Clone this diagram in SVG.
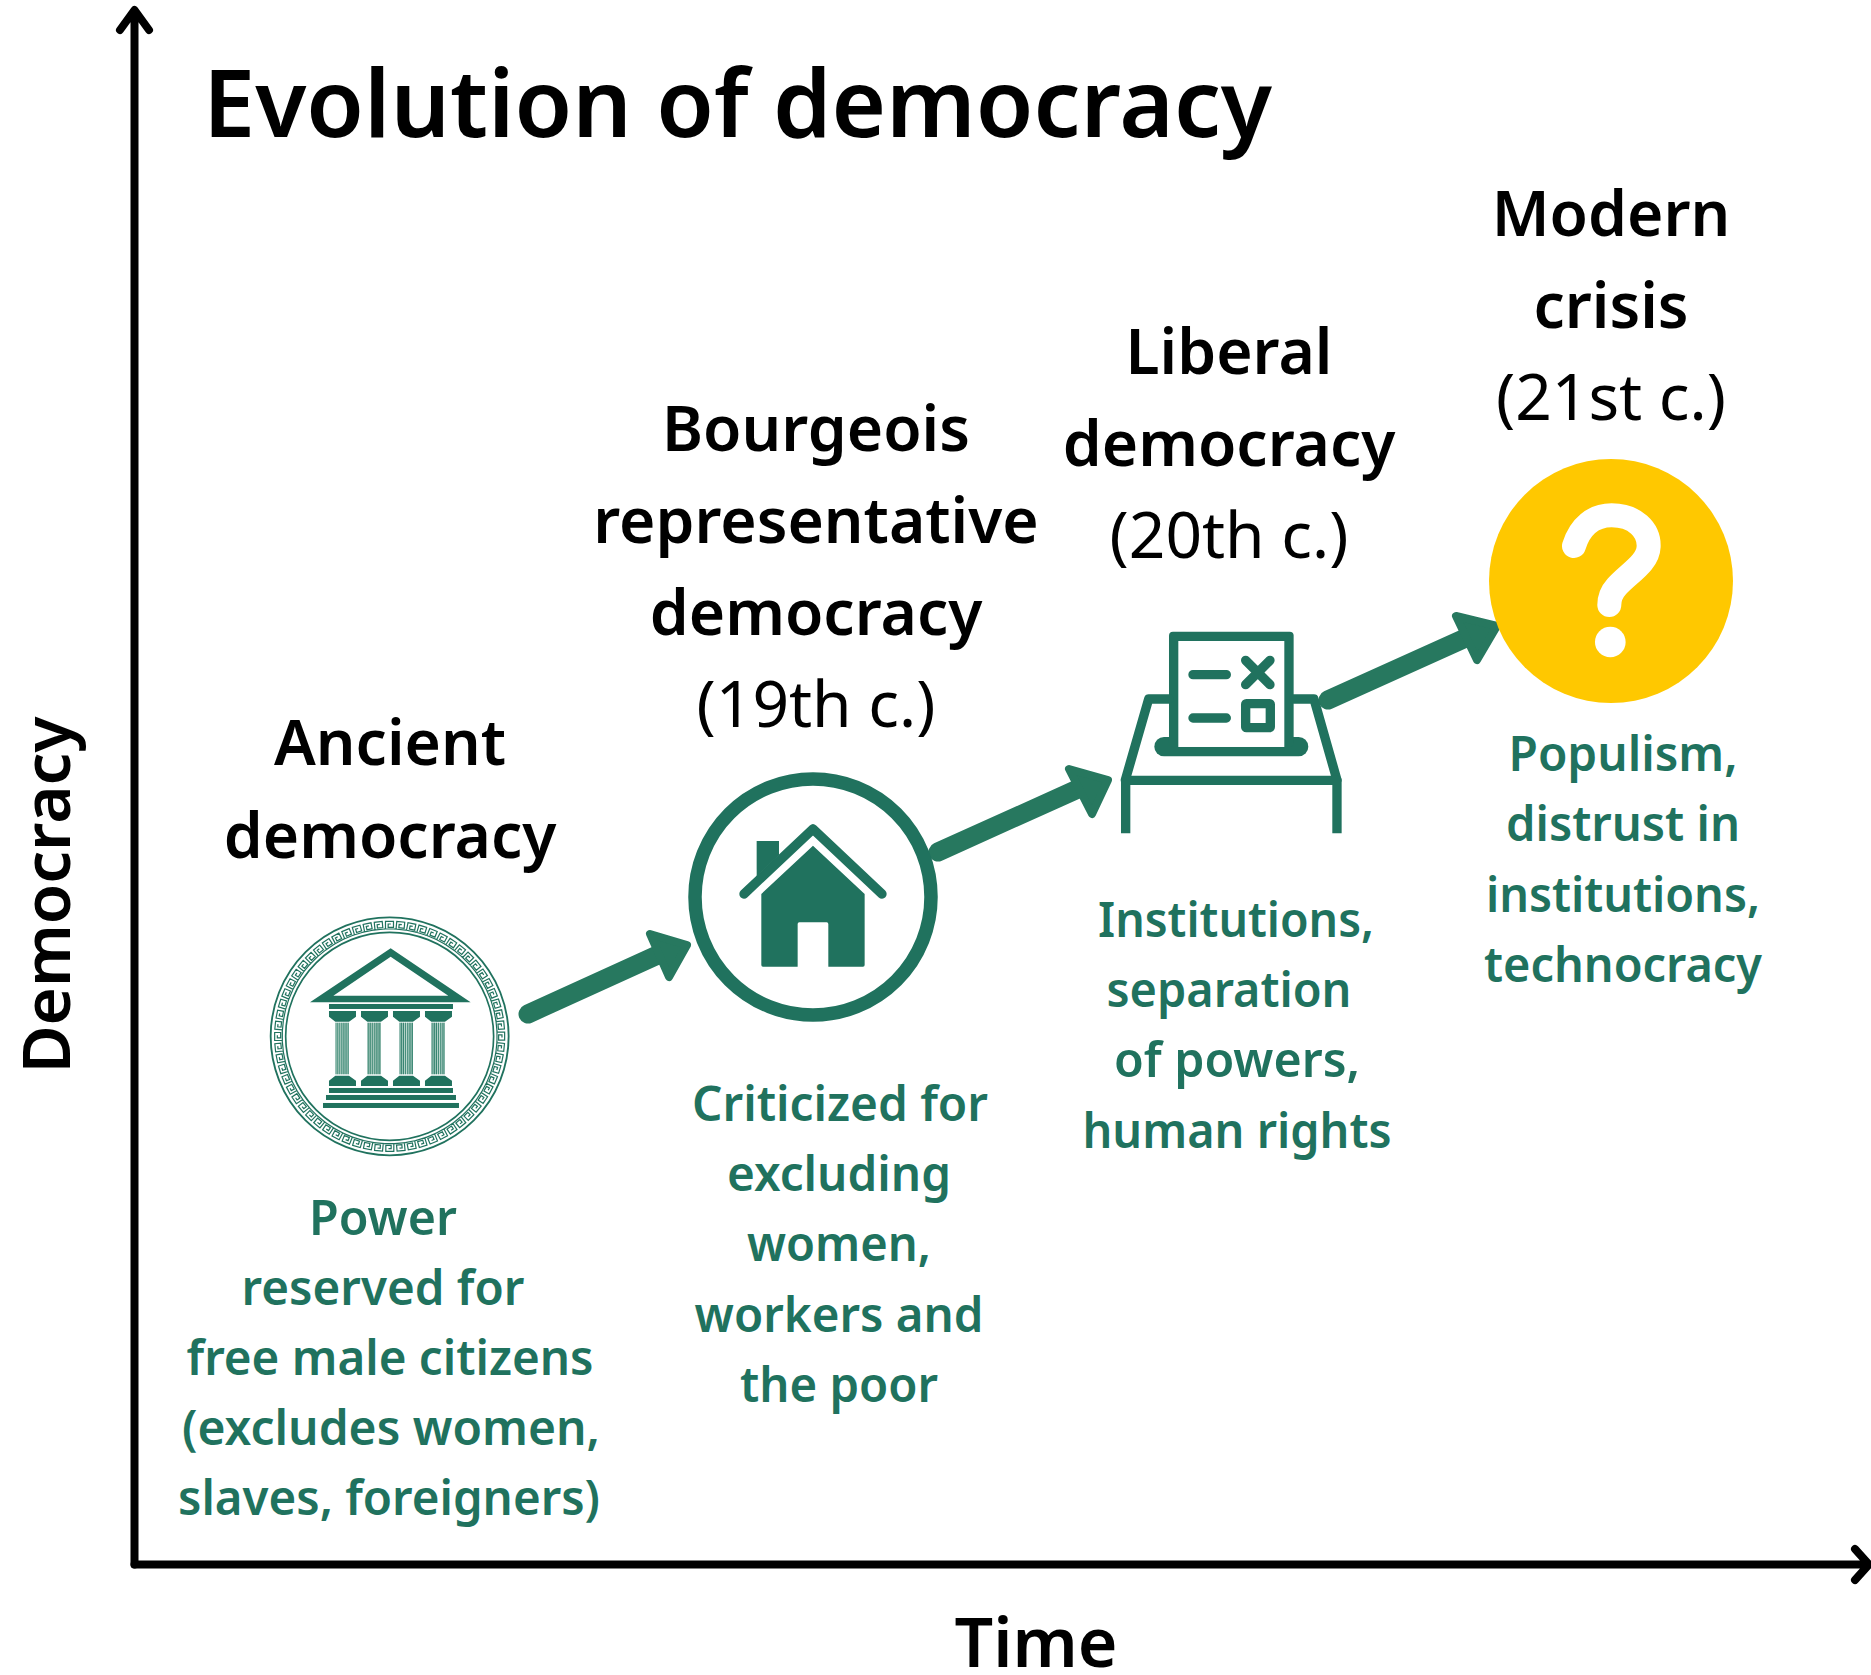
<svg xmlns="http://www.w3.org/2000/svg" xmlns:xlink="http://www.w3.org/1999/xlink" width="1871" height="1675" viewBox="0 0 1871 1675">
<style>
text{font-family:"Noto Sans","Open Sans","Liberation Sans",sans-serif;text-anchor:middle}
.t{font-size:93.5px;font-weight:600;text-anchor:start}
.h{font-size:62.3px;font-weight:600;fill:#000}
.a{font-size:65.5px;font-weight:600;fill:#000}
.r{font-size:64px;font-weight:400;fill:#000}
.g{font-size:48px;font-weight:600;fill:#20725e}
.ax{fill:none;stroke:#000;stroke-width:8;stroke-linecap:round;stroke-linejoin:round}
.gf{fill:#20725e}
.gs{fill:none;stroke:#20725e;stroke-width:28;stroke-linecap:round;stroke-linejoin:round}
.ar{fill:#27785f;stroke:#27785f}
.k{fill:none;stroke:#20725e;stroke-width:3.6}
</style>
<defs>
<path id="u" class="k" d="M402.5 87H435.5M406.5 87V64H430.5V82H414.5V72H422.5"/>
<g id="u4"><use xlink:href="#u"/><use xlink:href="#u" transform="rotate(5.625 419 409)"/><use xlink:href="#u" transform="rotate(11.25 419 409)"/><use xlink:href="#u" transform="rotate(16.875 419 409)"/></g>
<g id="u16"><use xlink:href="#u4"/><use xlink:href="#u4" transform="rotate(22.5 419 409)"/><use xlink:href="#u4" transform="rotate(45 419 409)"/><use xlink:href="#u4" transform="rotate(67.5 419 409)"/></g>
<pattern id="s1" patternUnits="userSpaceOnUse" width="6.6" height="10"><rect width="6.6" height="10" fill="#5f9f8d"/><rect width="2" height="10" fill="#a9cabf"/></pattern>
<pattern id="s2" patternUnits="userSpaceOnUse" width="6.6" height="10"><rect width="6.6" height="10" fill="#4f9480"/><rect width="2.5" height="10" fill="#a9cabf"/></pattern>
<pattern id="s3" patternUnits="userSpaceOnUse" width="6.6" height="10"><rect width="6.6" height="10" fill="#2f7f6b"/><rect width="3" height="10" fill="#c4dcd4"/></pattern>
</defs>
<rect width="1871" height="1675" fill="#fff"/>
<g id="axes">
<path class="ax" d="M134.5 1564.5V12M120 30L134.5 10L149 30"/>
<path class="ax" d="M134.5 1564.5H1866M1855 1549L1869 1564.5L1855 1580"/>
</g>
<text id="title" class="t" x="203" y="137">Evolution of democracy</text>
<text id="axis-y" class="a" transform="translate(70 895) rotate(-90)">Democracy</text>
<text id="axis-x" class="a" x="1036" y="1667" style="font-size:68px">Time</text>
<g id="connectors">
<g id="arrow1" class="ar"><path d="M528 1014L662 953" stroke-width="19" stroke-linecap="round"/><path d="M650 934L687 945L669 977Z" stroke-width="8" stroke-linejoin="round"/></g>
<g id="arrow2" class="ar"><path d="M938 852L1080 788" stroke-width="19" stroke-linecap="round"/><path d="M1069 769L1108 780L1092 814Z" stroke-width="8" stroke-linejoin="round"/></g>
<g id="arrow3" class="ar"><path d="M1328 700L1470 636" stroke-width="19" stroke-linecap="round"/><path d="M1456 616L1497 626L1477 660Z" stroke-width="8" stroke-linejoin="round"/></g>
</g>
<g id="node-ancient">
<text class="h" x="390" y="765">Ancient</text>
<text class="h" x="390" y="858">democracy</text>
<g transform="translate(250 900) scale(.3333)">
<circle cx="419" cy="409" r="357" fill="none" stroke="#20725e" stroke-width="5.5"/>
<circle cx="419" cy="409" r="312" fill="none" stroke="#20725e" stroke-width="5"/>
<use xlink:href="#u16"/><use xlink:href="#u16" transform="rotate(90 419 409)"/><use xlink:href="#u16" transform="rotate(180 419 409)"/><use xlink:href="#u16" transform="rotate(270 419 409)"/>
<path class="gf" d="M422 145L662 307H180ZM422 170L250 287H595Z" fill-rule="evenodd"/>
<rect class="gf" x="237" y="312" width="372" height="15"/>
<path class="gf" d="M237 333h81v17l-21 15h-41l-19-15zM333 333h81v17l-21 15h-41l-19-15zM429 333h81v17l-21 15h-41l-19-15zM525 333h81v17l-21 15h-41l-19-15z"/>
<path class="gf" d="M256 527h41l21 15v16h-81v-16zM352 527h41l21 15v16h-81v-16zM448 527h41l21 15v16h-81v-16zM544 527h41l21 15v16h-81v-16z"/>
<rect x="256" y="368" width="41" height="155" fill="url(#s1)"/><rect x="352" y="368" width="41" height="155" fill="url(#s2)"/><rect x="448" y="368" width="41" height="155" fill="url(#s3)"/><rect x="544" y="368" width="41" height="155" fill="url(#s3)"/>
<rect class="gf" x="237" y="564" width="372" height="15"/>
<rect class="gf" x="228" y="585" width="390" height="15"/>
<rect class="gf" x="219" y="609" width="408" height="15"/>
</g>
</g>
<g id="node-bourgeois">
<text class="h" x="816" y="451">Bourgeois</text>
<text class="h" x="816" y="543">representative</text>
<text class="h" x="816" y="635">democracy</text>
<text class="r" x="816" y="727">(19th c.)</text>
<circle cx="813" cy="897" r="118" fill="none" stroke="#20725e" stroke-width="13.5"/>
<g transform="translate(670 750) scale(.3333)">
<path class="gs" d="M222 432L429 237L636 432"/>
<path class="gf" d="M260 273H327V315L260 380Z"/>
<path class="gf" d="M429 287L584 432V645q0 5-5 5H475V522q0-5-5-5H388q-5 0-5 5V650H279q-5 0-5-5V432Z"/>
</g>
</g>
<g id="node-liberal">
<text class="h" x="1229" y="374">Liberal</text>
<text class="h" x="1229" y="466">democracy</text>
<text class="r" x="1229" y="558">(20th c.)</text>
<g transform="translate(1100 600) scale(.3333)">
<rect class="gf" x="163" y="411" width="462" height="58" rx="29"/>
<rect x="207" y="95" width="374" height="346" rx="12" class="gf"/>
<rect x="235" y="123" width="318" height="318" fill="#fff"/>
<path class="gs" stroke-linecap="butt" d="M76 540L146 297H207M581 297H642L711 540"/>
<path class="gs" style="stroke-linecap:butt" d="M77 700V541H711V700"/>
<path class="gs" d="M279 224H379M279 354H379M437 181L510 254M510 181L437 254"/>
<rect class="gs" x="437" y="311" width="74" height="72" rx="2"/>
</g>
</g>
<g id="node-modern">
<text class="h" x="1611" y="236">Modern</text>
<text class="h" x="1611" y="328">crisis</text>
<text class="r" x="1611" y="420">(21st c.)</text>
<circle cx="1611" cy="581" r="122" fill="#ffc800"/>
<g transform="translate(1300 450) scale(.3333)">
<path d="M822 288C840 230 880 196 935 196C1005 196 1048 240 1046 290C1044 340 985 370 950 410C932 430 928 450 928 465" fill="none" stroke="#fff" stroke-width="72" stroke-linecap="round"/>
<circle cx="931" cy="576" r="46" fill="#fff"/>
</g>
</g>
<g id="desc-ancient">
<text class="g" x="383" y="1235" textLength="148" lengthAdjust="spacingAndGlyphs">Power</text>
<text class="g" x="383" y="1305" textLength="283" lengthAdjust="spacingAndGlyphs">reserved for</text>
<text class="g" x="390" y="1375" textLength="407" lengthAdjust="spacingAndGlyphs">free male citizens</text>
<text class="g" x="391" y="1445" textLength="418" lengthAdjust="spacingAndGlyphs">(excludes women,</text>
<text class="g" x="389" y="1515" textLength="422" lengthAdjust="spacingAndGlyphs">slaves, foreigners)</text>
</g>
<g id="desc-bourgeois">
<text class="g" x="840" y="1121" textLength="296" lengthAdjust="spacingAndGlyphs">Criticized for</text>
<text class="g" x="839" y="1191" textLength="224" lengthAdjust="spacingAndGlyphs">excluding</text>
<text class="g" x="839" y="1261" textLength="184" lengthAdjust="spacingAndGlyphs">women,</text>
<text class="g" x="839" y="1332" textLength="289" lengthAdjust="spacingAndGlyphs">workers and</text>
<text class="g" x="839" y="1402" textLength="198" lengthAdjust="spacingAndGlyphs">the poor</text>
</g>
<g id="desc-liberal">
<text class="g" x="1236" y="937" textLength="276" lengthAdjust="spacingAndGlyphs">Institutions,</text>
<text class="g" x="1229" y="1007" textLength="245" lengthAdjust="spacingAndGlyphs">separation</text>
<text class="g" x="1237" y="1077" textLength="246" lengthAdjust="spacingAndGlyphs">of powers,</text>
<text class="g" x="1237" y="1148" textLength="309" lengthAdjust="spacingAndGlyphs">human rights</text>
</g>
<g id="desc-modern">
<text class="g" x="1623" y="771" textLength="229" lengthAdjust="spacingAndGlyphs">Populism,</text>
<text class="g" x="1623" y="841" textLength="234" lengthAdjust="spacingAndGlyphs">distrust in</text>
<text class="g" x="1623" y="912" textLength="274" lengthAdjust="spacingAndGlyphs">institutions,</text>
<text class="g" x="1623" y="982" textLength="278" lengthAdjust="spacingAndGlyphs">technocracy</text>
</g>
</svg>
